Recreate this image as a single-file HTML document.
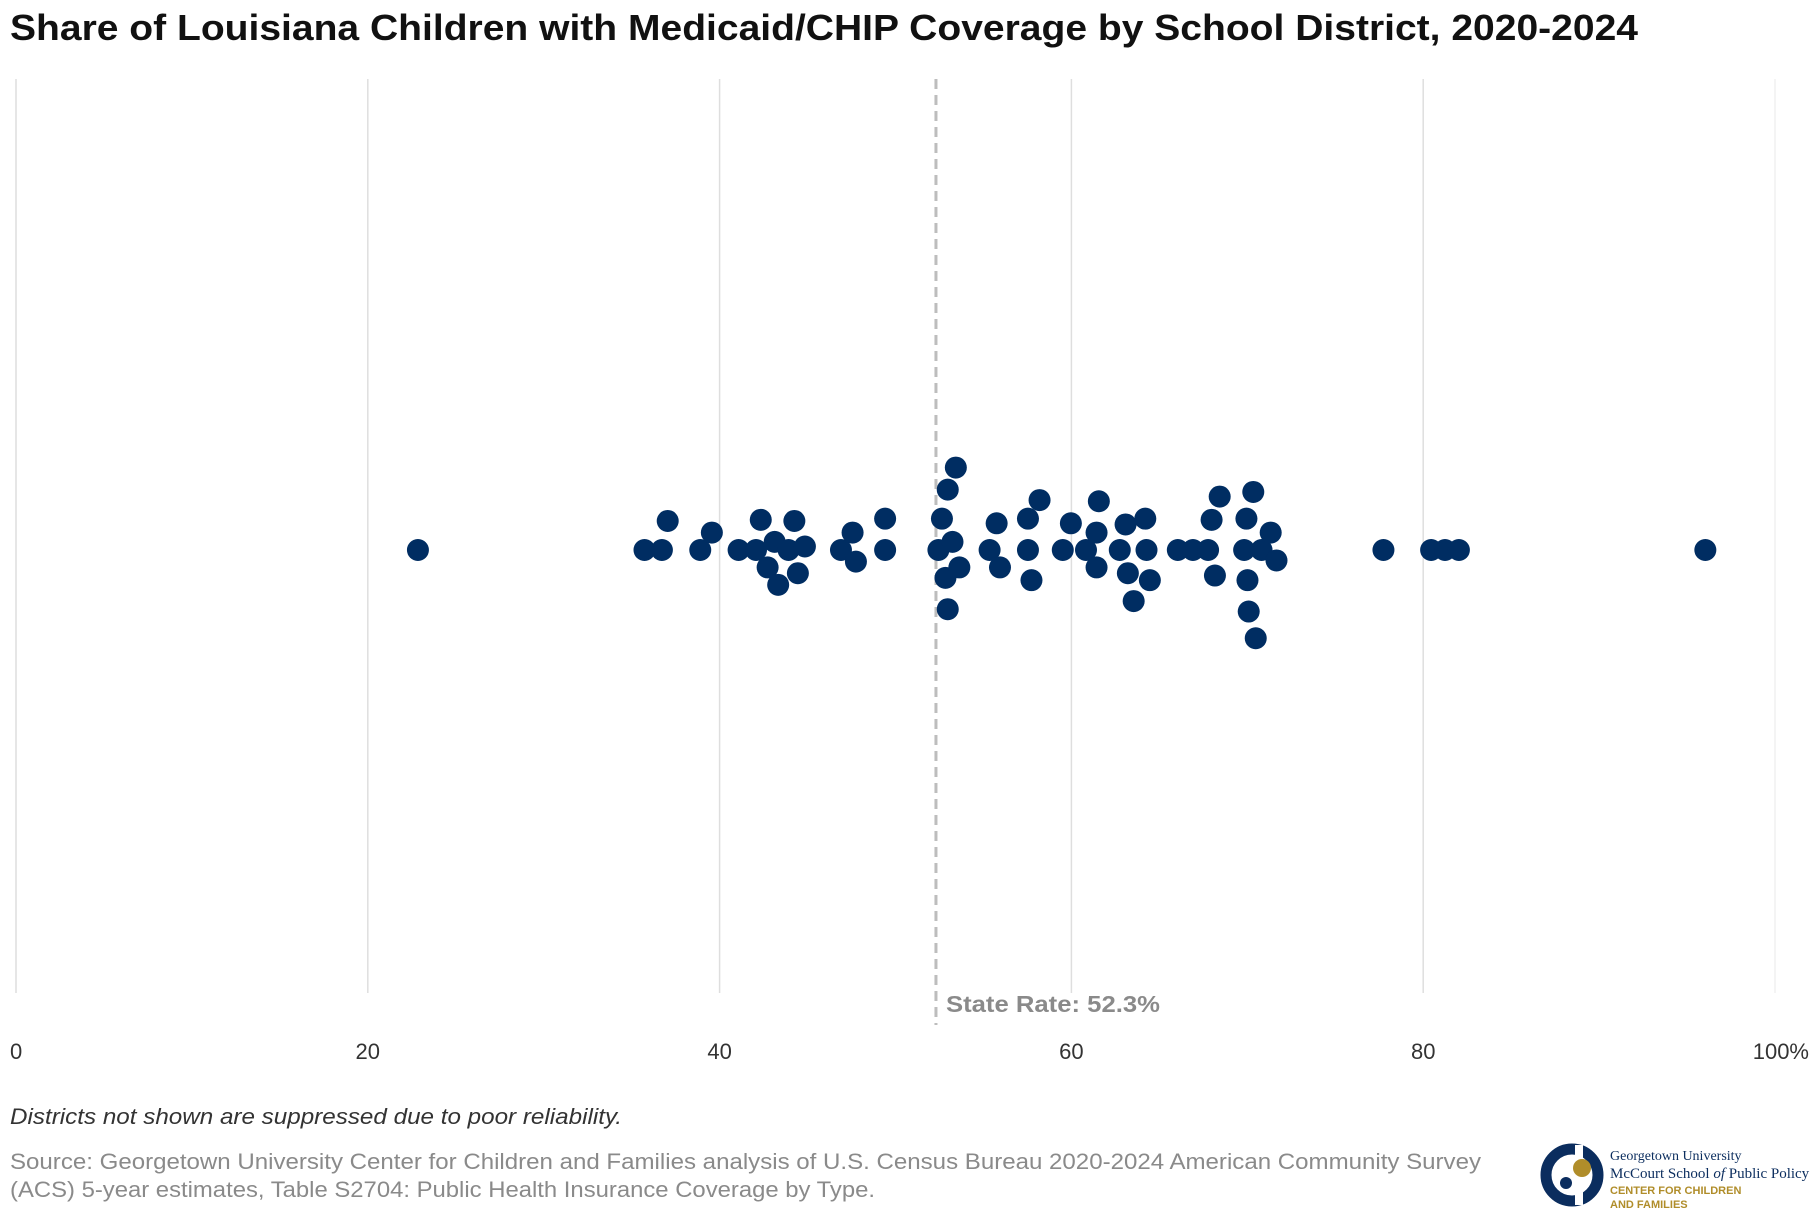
<!DOCTYPE html>
<html><head><meta charset="utf-8">
<style>
body{margin:0;background:#fff;width:1820px;height:1220px;overflow:hidden;font-family:"Liberation Sans",sans-serif}
</style></head>
<body>
<svg id="chart" width="1820" height="1220" viewBox="0 0 1820 1220" xmlns="http://www.w3.org/2000/svg">
<text x="10" y="40" font-size="36" font-weight="bold" fill="#111" textLength="1628" lengthAdjust="spacingAndGlyphs">Share of Louisiana Children with Medicaid/CHIP Coverage by School District, 2020-2024</text>
<g id="grid"></g>
<g id="ticks"></g>
<line id="stateLine" y1="79" y2="1025" stroke="#bdbdbd" stroke-width="3" stroke-dasharray="10,6"/>
<text id="stateLabel" y="1012" font-size="23" font-weight="bold" fill="#8a8a8a" textLength="214" lengthAdjust="spacingAndGlyphs">State Rate: 52.3%</text>
<g id="dots"></g>
<text x="10" y="1124" font-size="22" font-style="italic" fill="#333" textLength="612" lengthAdjust="spacingAndGlyphs">Districts not shown are suppressed due to poor reliability.</text>
<text x="10" y="1169" font-size="22" fill="#8a8a8a" textLength="1471" lengthAdjust="spacingAndGlyphs">Source: Georgetown University Center for Children and Families analysis of U.S. Census Bureau 2020-2024 American Community Survey</text>
<text x="10" y="1197" font-size="22" fill="#8a8a8a" textLength="865" lengthAdjust="spacingAndGlyphs">(ACS) 5-year estimates, Table S2704: Public Health Insurance Coverage by Type.</text>
<g>
<circle cx="1572" cy="1175" r="26" fill="none" stroke="#0b2d5e" stroke-width="11"/>
<rect x="1575" y="1145" width="8" height="60" fill="#fff"/>
<circle cx="1582" cy="1168" r="9" fill="#b08d2a"/>
<circle cx="1566" cy="1183" r="6" fill="#0b2d5e"/>
<text x="1610" y="1160" font-size="14" fill="#0b2d5e" font-family="Liberation Serif, serif">Georgetown University</text>
<text x="1610" y="1178" font-size="15" fill="#0b2d5e" font-family="Liberation Serif, serif">McCourt School <tspan font-style="italic">of</tspan> Public Policy</text>
<text x="1610" y="1194" font-size="11" font-weight="bold" fill="#b08d2a">CENTER FOR CHILDREN</text>
<text x="1610" y="1208" font-size="11" font-weight="bold" fill="#b08d2a">AND FAMILIES</text>
</g>
</svg>
<script>
const tickValues=[0,20,40,60,80,100];
const tickLabels=["0","20","40","60","80","100%"];
const stateRate=52.3;
const districtValues=[22.85,35.73,36.72,37.05,38.90,39.56,41.08,42.07,42.34,42.73,43.13,43.33,43.92,44.25,44.45,44.85,46.90,47.56,47.75,49.41,49.41,52.64,52.44,52.97,53.43,53.24,52.84,53.63,52.97,55.35,55.75,55.94,57.53,57.53,57.73,58.19,59.51,59.97,60.83,61.43,61.56,61.43,62.75,63.08,63.21,63.54,64.20,64.27,64.46,66.05,66.91,67.77,67.97,68.16,68.43,69.82,69.95,70.01,70.08,70.34,70.48,70.81,71.33,71.66,77.74,80.45,81.24,82.03,96.04];
const swarmOffset=[0,0,0,-25,0,-15,0,0,-26,15,-7,30,0,-25,20,-3,0,-15,10,-27,0,-27,0,-52,-71,-7,24,15,51,0,-23,15,-27,0,26,-43,0,-23,0,-15,-42,15,0,-22,20,44,-27,0,26,0,0,0,-26,22,-46,0,-27,26,53,-50,76,0,-15,9,0,0,0,0,0];
const NS="http://www.w3.org/2000/svg";
const X0=16,X1=1775,CY=550,YS=1.161;
function xs(v){return X0+(X1-X0)*v/100;}
const grid=document.getElementById('grid'),ticks=document.getElementById('ticks'),dots=document.getElementById('dots');
tickValues.forEach((v,i)=>{
  const l=document.createElementNS(NS,'line');
  
  
  l.setAttribute('x1',xs(v));l.setAttribute('x2',xs(v));l.setAttribute('y1',79);l.setAttribute('y2',993);
  l.setAttribute('stroke',v===100?'#f0f0f0':'#dedede');l.setAttribute('stroke-width',1.5);
  grid.appendChild(l);
  const t=document.createElementNS(NS,'text');
  
  
  t.setAttribute('x',xs(v));t.setAttribute('y',1059);t.setAttribute('font-size',22);t.setAttribute('fill','#333');
  t.setAttribute('text-anchor',v===0?'start':(v===100?'end':'middle'));
  if(v===0)t.setAttribute('x',xs(v)-6);
  if(v===100)t.setAttribute('x',xs(v)+34);
  t.textContent=tickLabels[i];ticks.appendChild(t);
});
const sl=document.getElementById('stateLine');sl.setAttribute('x1',xs(stateRate));sl.setAttribute('x2',xs(stateRate));
document.getElementById('stateLabel').setAttribute('x',xs(stateRate)+10);
districtValues.forEach((v,i)=>{
  const c=document.createElementNS(NS,'circle');
  
  
  c.setAttribute('cx',xs(v));c.setAttribute('cy',CY+swarmOffset[i]*YS);c.setAttribute('r',11);c.setAttribute('fill','#002d62');
  dots.appendChild(c);
});
</script>
</body></html>
